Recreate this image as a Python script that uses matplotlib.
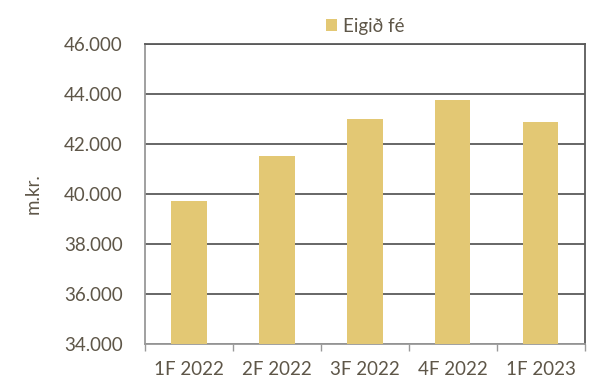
import matplotlib
matplotlib.use("Agg")
import matplotlib.pyplot as plt
from matplotlib.ticker import FuncFormatter, FixedLocator

# ----------- Données -----------
timabil = ["1F 2022", "2F 2022", "3F 2022", "4F 2022", "1F 2023"]
eigid_fe = [39710, 41520, 42990, 43760, 42870]
y_ticks = [34000, 36000, 38000, 40000, 42000, 44000, 46000]

texti = "#5e5648"
gulur = "#E3C874"

plt.rcParams["font.family"] = ["Lato", "DejaVu Sans"]

fig = plt.figure(figsize=(5.98, 3.81), dpi=100)
ax = fig.add_axes([0.2425, 0.097, 0.7355, 0.7875])

x = range(len(timabil))
ax.bar(x, eigid_fe, width=0.4, color=gulur, label="Eigið fé", zorder=3)

ax.set_ylim(34000, 46000)
ax.set_xlim(-0.5, len(timabil) - 0.5)
ax.set_yticks(y_ticks)
ax.yaxis.set_major_formatter(FuncFormatter(lambda v, p: f"{int(v):,}".replace(",", ".")))
ax.grid(axis="y", color="#5a5a5a", linewidth=1.3, zorder=0)

ax.set_xticks(list(x))
ax.set_xticklabels(timabil)
ax.xaxis.set_minor_locator(FixedLocator([i - 0.5 for i in range(len(timabil) + 1)]))
ax.tick_params(axis="x", which="major", length=0, pad=12, labelsize=13.5, labelcolor=texti)
ax.tick_params(axis="x", which="minor", length=5, color="#999999", width=1)
ax.tick_params(axis="y", length=0, pad=16, labelsize=13.5, labelcolor=texti)

for s in ["top", "right"]:
    ax.spines[s].set_color("#5a5a5a")
    ax.spines[s].set_linewidth(1.3)
for s in ["left", "bottom"]:
    ax.spines[s].set_color("#999999")
    ax.spines[s].set_linewidth(1.3)

ax.set_ylabel("m.kr.", fontsize=13.5, color=texti, labelpad=16)

ax.legend(loc="lower center", bbox_to_anchor=(0.5, 1.0), frameon=False,
          fontsize=13.5, labelcolor=texti, handlelength=0.6, handleheight=0.6,
          handletextpad=0.3, borderaxespad=0.1)

fig.savefig("out.png", dpi=100)
